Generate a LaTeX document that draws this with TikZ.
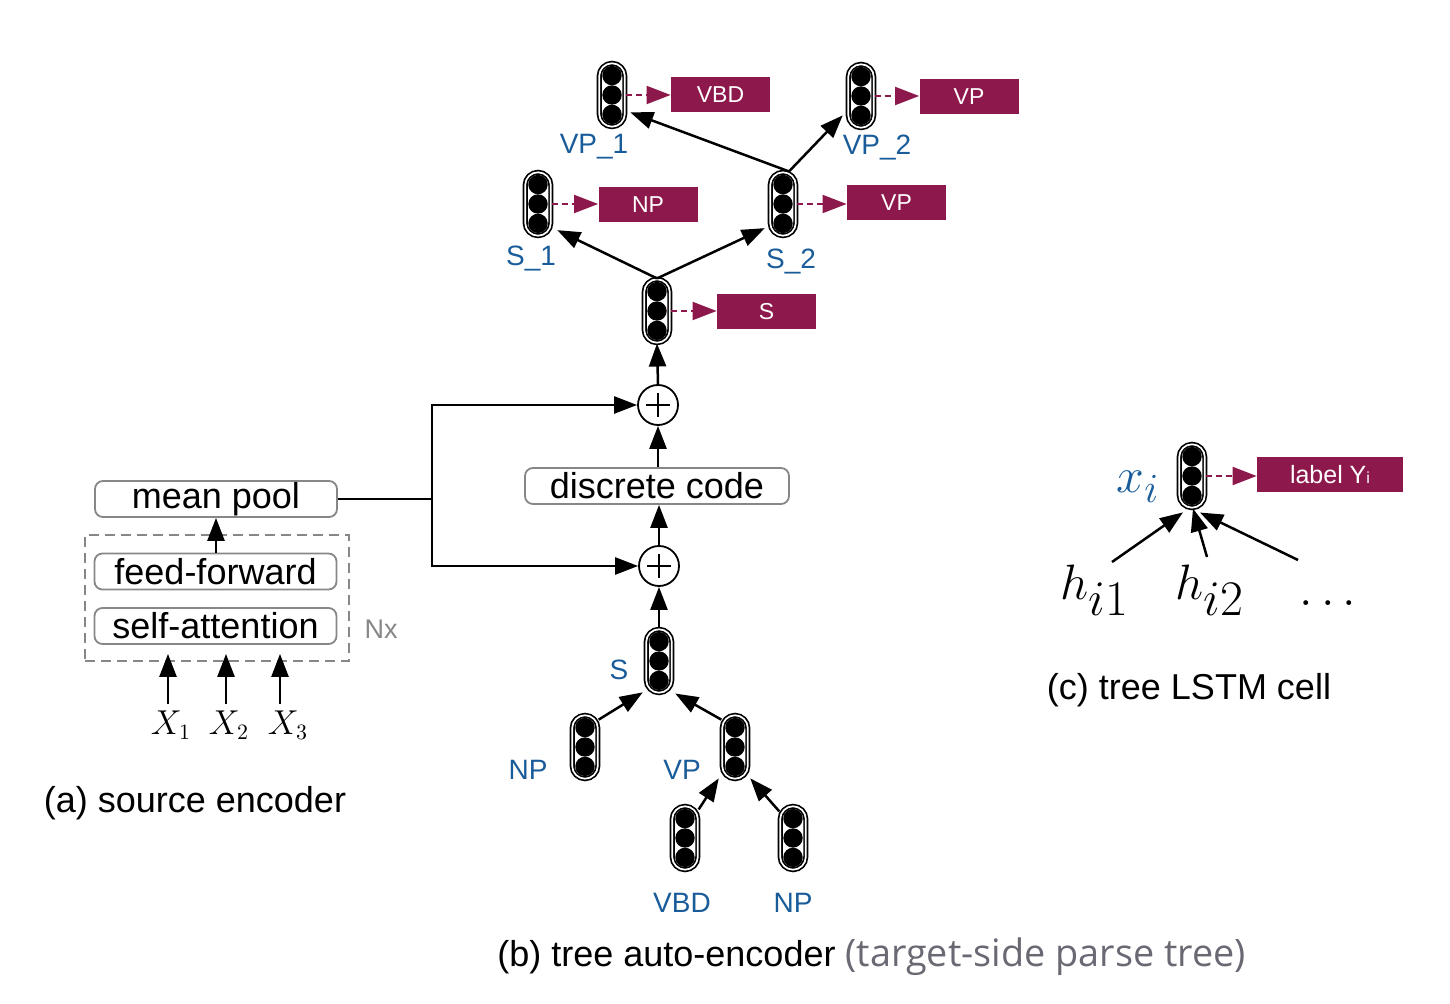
\documentclass[tikz,border=0pt]{standalone}
\usepackage[no-math]{fontspec}
\setmainfont{Liberation Sans}
\newfontfamily\captfont{Open Sans}
\usetikzlibrary{arrows.meta,calc}
\definecolor{boxred}{RGB}{141,25,76}
\definecolor{lblue}{RGB}{25,92,153}
\definecolor{boxgray}{RGB}{135,135,135}
\definecolor{captgray}{RGB}{105,105,115}
\newcommand\myfs[1]{\fontsize{#1}{#1}\selectfont}
\begin{document}
\begin{tikzpicture}[x=0.5pt,y=-0.5pt,
  cell/.style={draw, double, line width=0.85pt, double distance=0.85pt,
    rounded corners=6.4pt, minimum width=12.8pt, minimum height=31.7pt, inner sep=0pt,
    path picture={\foreach \k in {-1,0,1}{\fill[black] ($(path picture bounding box.center)+(0,\k*9.7pt)$) circle (4.85pt);}}},
  arr/.style={-{Triangle[length=11.5pt,width=8.5pt]}, line width=1.25pt},
  darr/.style={-{Triangle[length=12pt,width=9pt]}, draw=boxred, line width=1pt, dash pattern=on 3pt off 2pt},
  lab/.style={fill=boxred, text=white, font=\myfs{11.5}, minimum width=49.5pt, minimum height=17.5pt, inner sep=0pt},
  tl/.style={text=lblue, font=\myfs{14}, inner sep=0pt},
  gbox/.style={draw=boxgray, line width=0.9pt, rounded corners=4pt, minimum width=121pt, minimum height=18pt, inner sep=0pt, font=\myfs{18}},
  plus/.style={circle, draw, line width=0.9pt, minimum size=20pt, inner sep=0pt,
    path picture={\draw[line width=1.2pt] ($(path picture bounding box.center)+(-5.8pt,0)$) -- ++(11.6pt,0) ($(path picture bounding box.center)+(0,-5.8pt)$) -- ++(0,11.6pt);}},
  captxt/.style={font=\myfs{18}, inner sep=0pt}
]
\useasboundingbox (0,0) rectangle (1450,1004);

% ---------- (b) top tree ----------
\node[cell] (vp1) at (612,95) {};
\node[cell] (vp2) at (861,96) {};
\node[cell] (s1) at (538,204) {};
\node[cell] (s2) at (783,204) {};
\node[cell] (root) at (657,311) {};

\node[lab] (lvbd) at (720.5,94.5) {VBD};
\node[lab] (lvp2) at (969,96.5) {VP};
\node[lab] (lnp) at (648,204.5) {NP};
\node[lab] (lvps2) at (896.5,202.5) {VP};
\node[lab] (ls) at (766.5,311.5) {S};

\draw[darr] (vp1.east) -- (vp1.east -| lvbd.west);
\draw[darr] (vp2.east) -- (vp2.east -| lvp2.west);
\draw[darr] (s1.east) -- (s1.east -| lnp.west);
\draw[darr] (s2.east) -- (s2.east -| lvps2.west);
\draw[darr] (root.east) -- (root.east -| ls.west);

\node[tl] (tvp1) at (594,147) {VP\_1};
\node[tl] (tvp2) at (877,148) {VP\_2};
\node[tl] (ts1) at (531,259) {S\_1};
\node[tl] (ts2) at (791,262) {S\_2};

\draw[arr] (root.north) -- ($(s1.south east)+(2.8pt,3.2pt)$);
\draw[arr] (root.north) -- ($(s2.south west)+(-2.3pt,4.2pt)$);
\draw[arr] ($(s2.north)+(3pt,0)$) -- ($(vp1.south east)+(2.3pt,7.6pt)$);
\draw[arr] ($(s2.north)+(3pt,0)$) -- ($(vp2.south west)+(-2.3pt,6.6pt)$);

% ---------- middle ----------
\node[plus] (p1) at (658,405) {};
\node[gbox, minimum width=132pt] (code) at (657,486) {discrete code};
\node[plus] (p2) at (659,566) {};

\draw[arr] (p1.north) -- (root.south);
\draw[arr] (code.north -| p1) -- (p1.south);
\draw[arr] (p2.north) -- (code.south -| p2);

% ---------- bottom tree ----------
\node[cell] (bs) at (659,661) {};
\node[cell] (bnp) at (585,747) {};
\node[cell] (bvp) at (735,747) {};
\node[cell] (bvbd) at (685,838) {};
\node[cell] (bnp2) at (793,838) {};

\node[tl] (tbs) at (619,670) {S};
\node[tl] (tbnp) at (528,770) {NP};
\node[tl] (tbvp) at (682,770) {VP};
\node[tl] (tbvbd) at (682,903) {VBD};
\node[tl] (tbnp2) at (793,903) {NP};

\draw[arr] (bs.north) -- (p2.south);
\draw[arr] ($(bnp.north east)+(0,-2.6pt)$) -- ($(bs.south west)+(-1.3pt,0.6pt)$);
\draw[arr] ($(bvp.north west)+(0,-2.6pt)$) -- ($(bs.south east)+(1.3pt,0pt)$);
\draw[arr] ($(bvbd.north east)+(0,-2pt)$) -- ($(bvp.south west)+(-1.3pt,0.6pt)$);
\draw[arr] ($(bnp2.north west)+(0,-3pt)$) -- ($(bvp.south east)+(0.8pt,0.6pt)$);

% ---------- (a) source encoder ----------
\node[gbox] (mp) at (216,499) {mean pool};
\node[gbox] (ff) at (215.5,571.5) {feed-forward};
\node[gbox] (sa) at (215.5,626) {self-attention};
\node[draw=boxgray, line width=0.9pt, dash pattern=on 5pt off 3pt, minimum width=132pt, minimum height=63pt, inner sep=0pt] (nx) at (217,598) {};
\node[text=boxgray, font=\myfs{13.5}, inner sep=0pt] (nxl) at (381,629) {Nx};

\node[font=\myfs{16}, inner sep=0pt] (x1) at (171,725) {$X_1$};
\node[font=\myfs{16}, inner sep=0pt] (x2) at (229,725) {$X_2$};
\node[font=\myfs{16}, inner sep=0pt] (x3) at (288,725) {$X_3$};

\draw[arr, shorten <=3pt, shorten >=4.5pt] ([xshift=-1.5pt]x1.north) -- ([xshift=-1.5pt]x1.north |- sa.south);
\draw[arr, shorten <=3pt, shorten >=4.5pt] ([xshift=-1.5pt]x2.north) -- ([xshift=-1.5pt]x2.north |- sa.south);
\draw[arr, shorten <=3pt, shorten >=4.5pt] ([xshift=-4pt]x3.north) -- ([xshift=-4pt]x3.north |- sa.south);
\draw[arr] (ff.north -| mp) -- (mp.south);

\coordinate (jn) at (432,496);
\draw[line width=1.25pt] (mp.east) -- (jn |- mp.east);
\draw[arr] (jn |- mp.east) |- (p1.west);
\draw[arr] (jn |- mp.east) |- (p2.west);

\node[captxt] (capa) at (195,803) {(a) source encoder};
\node[captxt, anchor=west] (capb) at (497,957) {(b) tree auto-encoder {\captfont\myfs{18.9}\color{captgray}(target-side parse tree)}};

% ---------- (c) tree LSTM cell ----------
\node[cell] (xc) at (1192,476) {};
\node[lab, minimum width=73pt, font=\myfs{12.5}] (ly) at (1330,474.5) {label Y{\myfs{8}i}};
\draw[darr] (xc.east) -- (xc.east -| ly.west);
\node[text=lblue, font=\myfs{32}, inner sep=0pt] (xi) at (1138,487) {$x_i$};
\node[font=\myfs{33}, inner sep=0pt] (h1) at (1095,590) {$h_{i1}$};
\node[font=\myfs{33}, inner sep=0pt] (h2) at (1210,590) {$h_{i2}$};
\node[font=\myfs{43}, inner sep=0pt] (hdots) at (1328,603) {$\ldots$};
\coordinate (t1) at (1112,562);
\coordinate (t2) at (1207,557);
\coordinate (t3) at (1298,560);
\draw[arr] (t1) -- ($(xc.south)+(-4.5pt,-1.9pt)$);
\draw[arr] (t2) -- ($(xc.south)+(0.5pt,0pt)$);
\draw[arr] (t3) -- ($(xc.south)+(4pt,-2pt)$);
\node[captxt] (capc) at (1189,690) {(c) tree LSTM cell};
\end{tikzpicture}
\end{document}
